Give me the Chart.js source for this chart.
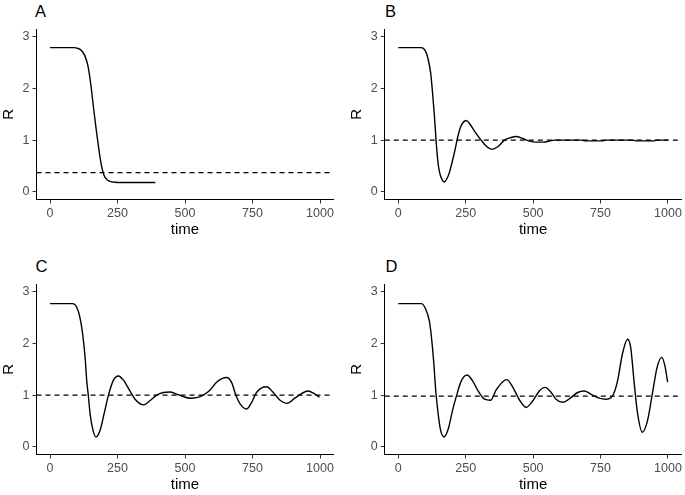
<!DOCTYPE html>
<html><head><meta charset="utf-8">
<script src="https://cdn.jsdelivr.net/npm/chart.js@4.4.1/dist/chart.umd.min.js"></script>
<style>
html,body{margin:0;padding:0;background:#fff;}
body{width:685px;height:495px;position:relative;overflow:hidden;font-family:"Liberation Sans",Arial,sans-serif;}
canvas{position:absolute;}
.lab{position:absolute;font-size:16.5px;line-height:16px;color:#000;font-family:"Liberation Sans",Arial,sans-serif;}
</style></head>
<body>
<div class="lab" style="left:35px;top:2.5px">A</div>
<div class="lab" style="left:385px;top:2.5px">B</div>
<div class="lab" style="left:35.5px;top:258px">C</div>
<div class="lab" style="left:385.5px;top:258px">D</div>
<canvas id="cA" width="342" height="240" style="left:0;top:0"></canvas>
<canvas id="cB" width="337" height="240" style="left:348px;top:0"></canvas>
<canvas id="cC" width="342" height="240" style="left:0;top:255px"></canvas>
<canvas id="cD" width="337" height="240" style="left:348px;top:255px"></canvas>
<script>
// ---- data ----
const panelLabels = ["A", "B", "C", "D"];
const xTicks = [0, 250, 500, 750, 1000];
const yTicks = [0, 1, 2, 3];
const thresholds = [0.37, 1.0, 1.0, 0.98];

const tA = [0, 50, 90, 100, 110, 120, 130, 140, 150, 160, 170, 180, 190, 200, 210, 220, 230, 240, 260, 300, 390];
const rA = [2.79, 2.79, 2.79, 2.78, 2.76, 2.71, 2.62, 2.45, 2.12, 1.68, 1.25, 0.86, 0.52, 0.32, 0.24, 0.205, 0.19, 0.185, 0.18, 0.18, 0.18];

const tB = [0, 50, 85, 100, 110, 120, 127, 134, 140, 146, 152, 162, 171, 180, 190, 200, 210, 220, 230, 240, 252, 264, 282, 307, 325, 348, 369, 394, 418, 437, 462, 486, 511, 536, 561, 579, 600, 680, 690, 760, 770, 870, 880, 950, 960, 1000];
const rB = [2.79, 2.79, 2.79, 2.73, 2.58, 2.30, 1.92, 1.47, 1.0, 0.63, 0.40, 0.24, 0.19, 0.25, 0.38, 0.58, 0.80, 1.05, 1.24, 1.34, 1.38, 1.32, 1.18, 1.0, 0.89, 0.82, 0.87, 1.0, 1.05, 1.07, 1.03, 0.98, 0.96, 0.96, 0.98, 1.0, 1.0, 1.0, 0.985, 0.985, 1.0, 1.0, 0.985, 0.985, 1.0, 1.0];

const tC = [0, 50, 84, 99, 111, 121, 130, 136, 142, 148, 157, 170, 185, 200, 216, 235, 253, 272, 296, 315, 346, 370, 395, 420, 444, 469, 494, 519, 543, 568, 593, 617, 654, 672, 689, 704, 728, 747, 765, 802, 827, 852, 877, 907, 932, 955, 981, 998];
const rC = [2.77, 2.77, 2.77, 2.70, 2.50, 2.18, 1.73, 1.28, 0.99, 0.66, 0.37, 0.19, 0.31, 0.63, 0.99, 1.29, 1.37, 1.29, 1.08, 0.92, 0.81, 0.89, 1.0, 1.05, 1.06, 1.02, 0.97, 0.94, 0.95, 1.0, 1.10, 1.25, 1.34, 1.25, 0.99, 0.83, 0.73, 0.86, 1.05, 1.16, 1.05, 0.90, 0.84, 0.94, 1.03, 1.08, 1.02, 0.96];

const tD = [0, 50, 86, 102, 115, 123, 132, 139, 148, 156, 169, 185, 201, 216, 234, 255, 275, 296, 320, 342, 363, 402, 425, 450, 474, 499, 523, 544, 567, 585, 610, 640, 665, 690, 720, 745, 770, 794, 813, 831, 850, 862, 874, 887, 905, 924, 942, 960, 977, 989, 999];
const rD = [2.77, 2.77, 2.77, 2.66, 2.44, 2.12, 1.60, 1.08, 0.63, 0.34, 0.19, 0.34, 0.70, 0.99, 1.28, 1.39, 1.28, 1.08, 0.92, 0.90, 1.10, 1.30, 1.15, 0.90, 0.76, 0.89, 1.08, 1.15, 1.05, 0.92, 0.86, 0.95, 1.05, 1.08, 1.0, 0.94, 0.92, 0.98, 1.27, 1.79, 2.08, 1.92, 1.28, 0.66, 0.28, 0.50, 1.02, 1.54, 1.73, 1.56, 1.25];

const times = [tA, tB, tC, tD];
const values = [rA, rB, rC, rD];
const canvasIds = ["cA", "cB", "cC", "cD"];
// ---------------------------------------

const FONT = '"Liberation Sans", Arial, sans-serif';

function makeChart(i) {
  const left = (i % 2 === 0);
  const yAxisWidth = left ? 36.5 : 36.8;
  const rightPad = left ? 8.5 : 3.5;
  const pts = times[i].map((t, k) => ({x: t, y: values[i][k]}));
  const th = [{x: -50, y: thresholds[i]}, {x: 1050, y: thresholds[i]}];
  new Chart(document.getElementById(canvasIds[i]), {
    type: 'line',
    data: {
      datasets: [
        {data: th, borderColor: '#000', borderWidth: 1.1, borderDash: [5, 4], pointRadius: 0, fill: false, tension: 0},
        {data: pts, borderColor: '#000', borderWidth: 1.4, pointRadius: 0, fill: false, cubicInterpolationMode: 'monotone'}
      ]
    },
    options: {
      responsive: false,
      animation: false,
      events: [],
      layout: {padding: {left: 0, right: rightPad, top: 29, bottom: 0}},
      plugins: {legend: {display: false}, tooltip: {enabled: false}, title: {display: false}},
      scales: {
        x: {
          type: 'linear', min: -50, max: 1050, bounds: 'data',
          afterBuildTicks: s => { s.ticks = xTicks.map(v => ({value: v})); },
          afterFit: s => { s.height = 40.5; },
          grid: {display: true, drawOnChartArea: false, drawTicks: true, tickLength: 4, color: '#333', lineWidth: 1},
          border: {display: true, color: '#000', width: 1},
          ticks: {autoSkip: false, maxRotation: 0, minRotation: 0, padding: 3, color: '#4d4d4d',
                  font: {family: FONT, size: 12.5}, callback: v => String(v)},
          title: {display: true, text: 'time', color: '#000', font: {family: FONT, size: 15}, padding: {top: 0, bottom: 1}}
        },
        y: {
          type: 'linear', min: -0.15, max: 3.15, bounds: 'data',
          afterBuildTicks: s => { s.ticks = yTicks.map(v => ({value: v})); },
          afterFit: s => { s.width = yAxisWidth; },
          grid: {display: true, drawOnChartArea: false, drawTicks: true, tickLength: 4, color: '#333', lineWidth: 1},
          border: {display: true, color: '#000', width: 1},
          ticks: {padding: 3, color: '#4d4d4d', font: {family: FONT, size: 12.5}, callback: v => String(v)},
          title: {display: true, text: 'R', color: '#000', font: {family: FONT, size: 15}, padding: {top: 0, bottom: 0}}
        }
      }
    }
  });
}
for (let i = 0; i < 4; i++) makeChart(i);
</script>
</body></html>
